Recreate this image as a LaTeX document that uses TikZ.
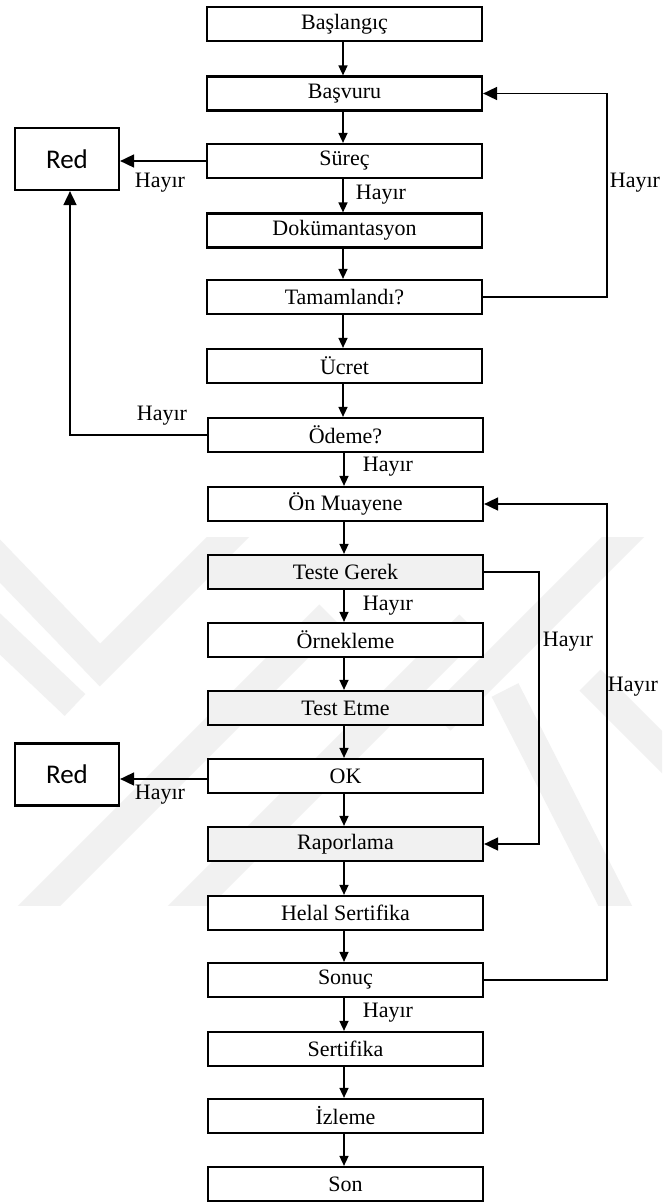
\documentclass[tikz,border=0pt]{standalone}
\usepackage{fontspec}
\setmainfont{Liberation Serif}
\newfontfamily\redfont{Carlito}
\usetikzlibrary{arrows.meta}

\definecolor{wm}{gray}{0.945}
\tikzset{
  stepbox/.style={draw, line width=2.2pt, minimum width=275pt, minimum height=34pt,
    inner sep=0pt, fill=white, font=\fontsize{22}{24}\selectfont},
  tinted/.style={stepbox, fill=wm},
  redbox/.style={draw, line width=2.2pt, minimum width=104pt, minimum height=62pt,
    inner sep=0pt, fill=white, font=\redfont\fontsize{27}{30}\selectfont},
  flow/.style={line width=1.5pt, -{Triangle[length=10pt,width=9pt]}},
  side/.style={line width=1.7pt, -{Triangle[length=14pt,width=13pt]}},
  lbl/.style={inner sep=0pt, font=\fontsize{22}{24}\selectfont},
  band/.style={line width=30pt, wm, line cap=butt},
}

\begin{document}
\begin{tikzpicture}[x=1pt,y=-1pt]
\useasboundingbox (0,0) rectangle (662,1202);
\fill[white] (0,0) rectangle (662,1202);

% faint background emblem
\begin{scope}
  \clip (0,537) rectangle (662,905);
  \draw[band] (-30,530) -- (100,665) -- (240,525);
  \draw[band] (-20,615) -- (75,705);
  \draw[band] (20,925) -- (330,615);
  \draw[band] (170,925) -- (470,625);
  \draw[band] (440,720) -- (680,480);
  \draw[band] (505,690) -- (625,925);
  \draw[band] (590,680) -- (700,790);
\end{scope}

% main process chain
\node[stepbox] (b1)  at (344.5,24)   {Başlangıç};
\node[stepbox] (b2)  at (344.5,93.5) {Başvuru};
\node[stepbox] (b3)  at (344.5,161)  {Süreç};
\node[stepbox] (b4)  at (344.5,230.5){Dokümantasyon};
\node[stepbox] (b5)  at (344.5,297)  {Tamamlandı?};
\node[stepbox] (b6)  at (344.5,366)  {Ücret};
\node[stepbox] (b7)  at (345.5,435)  {Ödeme?};
\node[stepbox] (b8)  at (345.5,504)  {Ön Muayene};
\node[tinted]  (b9)  at (345.5,572)  {Teste Gerek};
\node[stepbox] (b10) at (345.5,640)  {Örnekleme};
\node[tinted]  (b11) at (345.5,708)  {Test Etme};
\node[stepbox] (b12) at (345.5,776)  {OK};
\node[tinted]  (b13) at (345.5,844)  {Raporlama};
\node[stepbox] (b14) at (345.5,913)  {Helal Sertifika};
\node[stepbox] (b15) at (345.5,980)  {Sonuç};
\node[stepbox] (b16) at (345.5,1049) {Sertifika};
\node[stepbox] (b17) at (345.5,1116) {İzleme};
\node[stepbox] (b18) at (345.5,1184) {Son};

% rejection boxes
\node[redbox] (red1) at (67,159)   {Red};
\node[redbox] (red2) at (67,774.5) {Red};

% straight flow
\foreach \a/\b in {b1/b2,b2/b3,b3/b4,b4/b5,b5/b6,b6/b7,b7/b8,b8/b9,b9/b10,
                   b10/b11,b11/b12,b12/b13,b13/b14,b14/b15,b15/b16,b16/b17,b17/b18}
  \draw[flow] ([xshift=-1.5pt]\a.south) -- ([xshift=-1.5pt]\a.south |- \b.north);

% loop-back and rejection routes
\coordinate (outer) at (607,0);
\coordinate (inner) at (539,0);
\draw[side] (b3.west) -- (b3.west -| red1.east);
\draw[side] (b7.west) -| ([xshift=3pt]red1.south);
\draw[side] (b5.east) -- (b5.east -| outer) |- (b2.east);
\draw[side] (b9.east) -- (b9.east -| inner) |- (b13.east);
\draw[side] (b15.east) -- (b15.east -| outer) |- (b8.east);
\draw[side] ([yshift=-3pt]b12.west) -- ([yshift=-3pt]b12.west -| red2.east);

% branch labels
\node[lbl] (h1) at (160,183) {Hayır};
\node[lbl] (h2) at (162,416) {Hayır};
\node[lbl] (h3) at (635,183) {Hayır};
\node[lbl] (h4) at (381,195) {Hayır};
\node[lbl] (h5) at (388,467) {Hayır};
\node[lbl] (h6) at (388,606) {Hayır};
\node[lbl] (h7) at (568,642) {Hayır};
\node[lbl] (h8) at (633,687) {Hayır};
\node[lbl] (h9) at (160,795) {Hayır};
\node[lbl] (h10) at (388,1013) {Hayır};
\end{tikzpicture}
\end{document}
